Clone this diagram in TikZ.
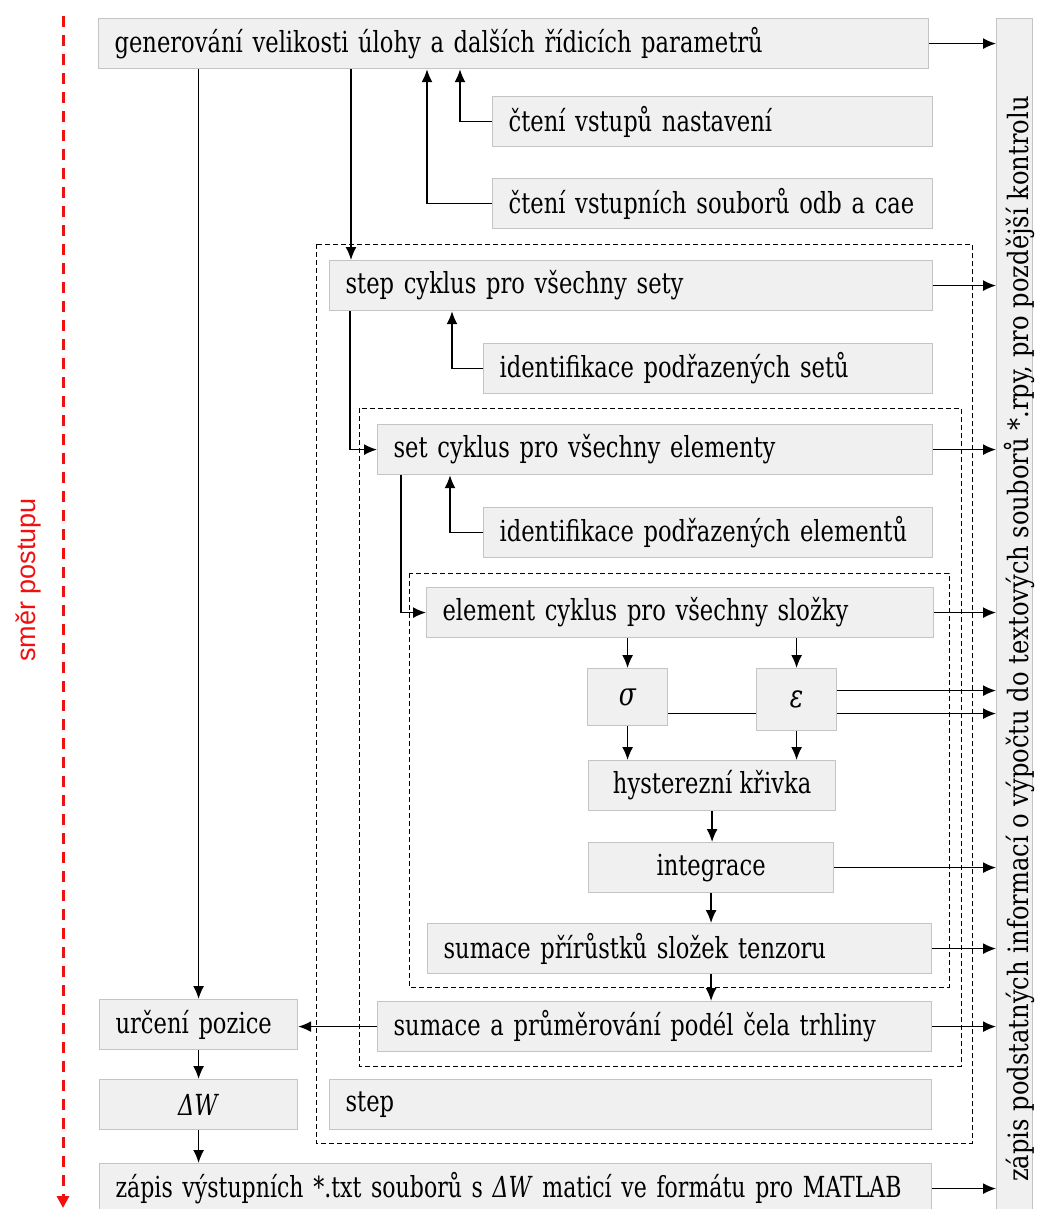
\documentclass[tikz,border=0pt]{standalone}
\usepackage{fontspec}
\setmainfont{DejaVu Serif}[FakeStretch=0.78]
\newfontfamily\sidefont{DejaVu Serif}[FakeStretch=0.865]
\newfontfamily\narrowfont{DejaVu Serif}[FakeStretch=0.76]
\newfontfamily\dirfont{Liberation Sans}
\usetikzlibrary{arrows.meta,calc}
\definecolor{boxfill}{HTML}{F0F0F0}
\definecolor{boxline}{HTML}{C4C4C4}
\definecolor{dirred}{HTML}{F01010}

\begin{document}
\begin{tikzpicture}[x=1pt,y=-1pt,
  box/.style={draw=boxline, fill=boxfill, line width=1.2pt, minimum height=50pt,
    inner xsep=16pt, inner ysep=0pt, align=left, anchor=north west,
    font=\fontsize{29}{33}\selectfont},
  cbox/.style={box, align=center},
  conn/.style={line width=1.5pt, draw=black},
  arr/.style={conn, -{Latex[length=13pt,width=11pt]}},
  frame/.style={draw=black, line width=1pt, dash pattern=on 5pt off 3pt},
]
\useasboundingbox (0,0) rectangle (1046,1209);

% direction of the procedure
\coordinate (dirtop) at (63,16);
\coordinate (dirbot) at (63,1208);
\draw[dirred, line width=3pt, dash pattern=on 11pt off 8pt,
      -{Triangle[length=12pt,width=12pt]}] (dirtop) -- (dirbot);
\node[rotate=90, text=dirred, font=\dirfont\fontsize{27}{30}\selectfont]
  (dirlabel) at (28,580) {směr postupu};

% nested loop frames
\draw[frame] (316,244) rectangle (972,1143);
\draw[frame] (359,408) rectangle (961,1066);
\draw[frame] (409,573) rectangle (949,987);

% log output column
\node[box, minimum width=36pt, minimum height=1197pt, inner xsep=0pt] (out) at (996,18) {};
\node[rotate=90, font=\sidefont\fontsize{28}{32}\selectfont] (outtext) at (1019,639)
  {zápis podstatných informací o výpočtu do textových souborů *.rpy, pro pozdější kontrolu};

% process steps
\node[box, text width=798pt] (gen) at (98,18) {generování velikosti úlohy a dalších řídicích parametrů};
\node[box, text width=408pt] (cvn) at (492,96) {čtení vstupů nastavení};
\node[box, text width=408pt] (cvs) at (492,178) {čtení vstupních souborů odb a cae};
\node[box, text width=571pt] (stepc) at (329,260) {step cyklus pro všechny sety};
\node[box, text width=417pt] (ids) at (483,343) {identifikace podřazených setů};
\node[box, text width=523pt] (setc) at (377,424) {set cyklus pro všechny elementy};
\node[box, text width=417pt] (idel) at (483,507) {identifikace podřazených elementů};
\node[box, text width=475pt] (elc) at (426,587) {element cyklus pro všechny složky};
\node[cbox, minimum width=80pt, minimum height=57pt, inner xsep=0pt, font=\fontsize{32}{36}\selectfont] (sig) at (587,668) {\textit{σ}};
\node[cbox, minimum width=80pt, minimum height=62pt, inner xsep=0pt, font=\fontsize{32}{36}\selectfont] (eps) at (756,668) {\textit{ε}};
\node[cbox, minimum width=247pt] (hyst) at (588,760) {hysterezní křivka};
\node[cbox, minimum width=245pt] (integ) at (588,842) {integrace};
\node[box, text width=472pt] (sumpr) at (427,923) {sumace přírůstků složek tenzoru};
\node[box, text width=522pt] (sumprum) at (377,1001) {sumace a průměrování podél čela trhliny};
\node[box, text width=166pt] (urceni) at (99,999) {určení pozice};
\node[cbox, minimum width=198pt] (dW) at (99,1079) {\textit{ΔW}};
\node[box, text width=570pt] (stepb) at (329,1079) {step};
\node[box, text width=800pt] (zapis) at (99,1163)
  {\mbox{\narrowfont zápis výstupních *.txt souborů s \textit{ΔW} maticí ve formátu pro MATLAB}};

% connectors
\draw[arr] (urceni.north |- gen.south) -- (urceni.north);
\draw[arr] ($(gen.south west)+(253,0)$) -- ($(stepc.north west)+(22,0)$);
\draw[arr] (cvn.west) -| ($(gen.south west)+(362,0)$);
\draw[arr] (cvs.west) -| ($(gen.south west)+(329,0)$);
\draw[arr] (ids.west) -| ($(stepc.south west)+(123,0)$);
\draw[arr] ($(stepc.south west)+(21,0)$) |- (setc.west);
\draw[arr] (idel.west) -| ($(setc.south west)+(73,0)$);
\draw[arr] ($(setc.south west)+(24,0)$) |- (elc.west);
\draw[arr] (elc.south -| sig.north) -- (sig.north);
\draw[arr] (elc.south -| eps.north) -- (eps.north);
\draw[arr] (sig.south) -- (sig.south |- hyst.north);
\draw[arr] (eps.south) -- (eps.south |- hyst.north);
\coordinate (e1) at ([yshift=9pt]eps.east);
\coordinate (e2) at ([yshift=-14pt]eps.east);
\draw[conn] (sig.east |- e2) -- (eps.west |- e2);
\draw[arr] (hyst.south) -- (hyst.south |- integ.north);
\draw[arr] (integ.south) -- (integ.south |- sumpr.north);
\draw[arr] (integ.south |- sumpr.south) -- (integ.south |- sumprum.north);
\draw[arr] (sumprum.west) -- (sumprum.west -| urceni.east);
\draw[arr] (urceni.south) -- (dW.north);
\draw[arr] (dW.south) -- (dW.south |- zapis.north);

% outputs to the log column
\foreach \n in {gen,stepc,setc,elc,integ,sumpr,sumprum,zapis}
  \draw[arr] (\n.east) -- (\n.east -| out.west);
\draw[arr] (e1) -- (e1 -| out.west);
\draw[arr] (e2) -- (e2 -| out.west);
\end{tikzpicture}
\end{document}
